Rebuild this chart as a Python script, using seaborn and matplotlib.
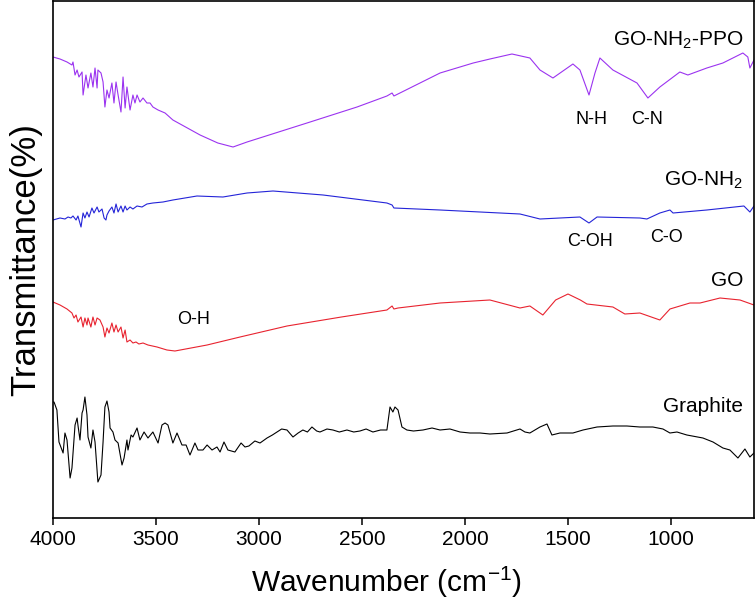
import numpy as np
import pandas as pd
import matplotlib
matplotlib.use("Agg")
import matplotlib.pyplot as plt
import seaborn as sns

# FTIR spectra, wavenumber (cm-1) and transmittance (arbitrary offset units)
graphite_wn = [4000, 3995, 3981, 3971, 3951, 3942, 3932, 3917, 3908, 3893, 3883, 3879, 3869, 3859,
               3854, 3845, 3835, 3830, 3816, 3806, 3796, 3782, 3767, 3757, 3748, 3738, 3728, 3723,
               3709, 3699, 3684, 3665, 3655, 3641, 3636, 3621, 3612, 3592, 3578, 3558, 3539, 3515,
               3490, 3471, 3456, 3442, 3418, 3398, 3374, 3354, 3335, 3311, 3296, 3272, 3252, 3228,
               3204, 3189, 3170, 3151, 3117, 3087, 3068, 3049, 3020, 2995, 2961, 2935, 2913, 2890,
               2864, 2835, 2810, 2787, 2765, 2743, 2720, 2704, 2670, 2641, 2610, 2573, 2540, 2510,
               2480, 2447, 2410, 2379, 2364, 2350, 2340, 2325, 2306, 2282, 2250, 2204, 2160, 2121,
               2073, 2024, 1976, 1927, 1879, 1796, 1733, 1709, 1685, 1636, 1602, 1578, 1539, 1476,
               1427, 1359, 1282, 1214, 1151, 1088, 1039, 1005, 971, 923, 845, 796, 748, 714, 675,
               641, 617, 597]
graphite_t = [116, 116, 108, 76, 65, 85, 78, 40, 50, 93, 100, 93, 78, 105,
              108, 121, 103, 81, 70, 88, 76, 36, 43, 76, 111, 117, 106, 90,
              86, 78, 75, 53, 60, 78, 68, 83, 81, 90, 78, 86, 80, 86,
              75, 93, 95, 93, 75, 85, 73, 73, 63, 75, 68, 68, 73, 68,
              71, 66, 76, 68, 66, 75, 71, 72, 77, 75, 80, 83, 86, 89,
              88, 81, 85, 88, 86, 91, 87, 86, 89, 88, 86, 88, 86, 87,
              89, 86, 88, 88, 111, 106, 111, 108, 91, 88, 87, 88, 90, 88,
              89, 86, 85, 85, 84, 85, 89, 86, 85, 91, 94, 83, 85, 85,
              88, 91, 92, 92, 91, 91, 89, 85, 86, 83, 80, 76, 70, 68, 60,
              69, 61, 65]

go_wn = [4000, 3966, 3932, 3908, 3898, 3888, 3879, 3864, 3854, 3845, 3835, 3830, 3816, 3806,
         3796, 3786, 3772, 3757, 3748, 3738, 3728, 3714, 3704, 3694, 3684, 3670, 3660, 3650,
         3641, 3626, 3612, 3597, 3583, 3563, 3539, 3495, 3447, 3408, 3252, 3092, 2864, 2600,
         2379, 2354, 2345, 2325, 2121, 1879, 1733, 1685, 1622, 1560, 1500, 1440, 1408, 1282,
         1224, 1151, 1054, 1005, 908, 859, 762, 665, 597]
go_t = [216, 213, 209, 205, 200, 203, 196, 201, 191, 200, 193, 200, 191, 201,
        193, 200, 198, 191, 181, 190, 185, 195, 186, 193, 186, 191, 180, 188,
        176, 178, 175, 176, 174, 175, 173, 171, 168, 167, 173, 181, 192, 201,
        208, 212, 209, 210, 215, 218, 210, 212, 203, 218, 224, 218, 214, 211,
        204, 205, 198, 209, 215, 215, 220, 218, 213]

gonh2_wn = [4000, 3966, 3942, 3927, 3913, 3903, 3888, 3879, 3864, 3854, 3845, 3835, 3825, 3811,
            3801, 3786, 3777, 3762, 3752, 3743, 3738, 3728, 3714, 3704, 3694, 3684, 3670, 3660,
            3650, 3641, 3626, 3612, 3592, 3568, 3544, 3515, 3466, 3418, 3301, 3175, 3058, 2932,
            2689, 2379, 2354, 2345, 2121, 1733, 1636, 1442, 1398, 1359, 1151, 1117, 1054, 1005,
            990, 826, 646, 617, 597]
gonh2_t = [298, 300, 299, 301, 300, 302, 298, 302, 291, 305, 300, 306, 301, 310,
           305, 311, 306, 309, 300, 298, 303, 307, 311, 305, 314, 306, 312, 306,
           312, 308, 311, 309, 312, 311, 314, 315, 316, 318, 322, 321, 325, 327,
           323, 315, 313, 310, 308, 304, 299, 301, 295, 301, 300, 299, 305, 308,
           305, 308, 312, 306, 312]

ppo_wn = [4000, 3966, 3932, 3908, 3903, 3893, 3883, 3874, 3859, 3854, 3840, 3830, 3816, 3806,
          3796, 3786, 3782, 3767, 3757, 3748, 3738, 3728, 3714, 3704, 3694, 3684, 3670, 3660,
          3650, 3641, 3626, 3612, 3602, 3592, 3578, 3563, 3544, 3529, 3515, 3490, 3456, 3418,
          3286, 3200, 3126, 3058, 2767, 2524, 2379, 2354, 2345, 2121, 1960, 1879, 1772, 1685,
          1636, 1573, 1476, 1442, 1398, 1369, 1345, 1282, 1165, 1112, 1054, 957, 918, 826, 748,
          651, 627, 617, 597]
ppo_t = [461, 459, 456, 453, 456, 443, 448, 441, 446, 423, 443, 430, 445, 431,
         450, 430, 448, 445, 436, 411, 428, 420, 435, 415, 436, 423, 406, 441,
         410, 431, 408, 423, 415, 423, 416, 420, 415, 415, 411, 408, 405, 398,
         383, 375, 371, 376, 395, 411, 422, 425, 422, 445, 455, 459, 464, 460,
         448, 440, 454, 448, 423, 445, 460, 448, 435, 420, 431, 446, 443, 450, 455,
         465, 461, 450, 458]

series = [
    ("Graphite", graphite_wn, graphite_t, "black"),
    ("GO", go_wn, go_t, "#E8232F"),
    ("GO-NH$_2$", gonh2_wn, gonh2_t, "#2424D8"),
    ("GO-NH$_2$-PPO", ppo_wn, ppo_t, "#9B33F0"),
]

# peak labels: text, wavenumber, level
peak_text = ["O-H", "N-H", "C-N", "C-OH", "C-O"]
peak_wn = [3320, 1384, 1117, 1393, 1024]
peak_t = [199, 398, 398, 276, 281]

# curve name label levels
name_t = [111, 237, 338, 478]

sns.set_style("ticks", {"axes.edgecolor": "black", "text.color": "black",
                        "xtick.color": "black", "axes.labelcolor": "black"})
plt.rcParams['font.family'] = ['Liberation Sans', 'DejaVu Sans']
plt.rcParams['mathtext.default'] = 'regular'

fig = plt.figure(figsize=(7.56, 6.03), dpi=100)
ax = fig.add_axes([53 / 756, 85 / 603, 701 / 756, 517 / 603])

for (name, wn, t, color), ty in zip(series, name_t):
    df = pd.DataFrame({"wn": wn, "t": t})
    sns.lineplot(data=df, x="wn", y="t", color=color, linewidth=0.8, estimator=None, ax=ax)
    ax.text(650, ty, name, ha='right', va='center', fontsize=15)

for txt, x, y in zip(peak_text, peak_wn, peak_t):
    ax.text(x, y, txt, ha='center', va='center', fontsize=13)

ax.set_xlim(4000, 597)
ax.set_ylim(0, 517)
ax.set_xticks([4000, 3500, 3000, 2500, 2000, 1500, 1000])
ax.set_yticks([])
ax.tick_params(axis='x', direction='out', length=5, width=1.1, labelsize=15, top=False)
for s in ax.spines.values():
    s.set_linewidth(1.2)
    s.set_visible(True)
ax.set_xlabel("Wavenumber (cm$^{-1}$)", fontsize=21.5, labelpad=10)
ax.xaxis.set_label_coords(0.476, -0.09)
ax.set_ylabel("Transmittance(%)", fontsize=25, labelpad=8)

plt.savefig("out.png", dpi=100)
